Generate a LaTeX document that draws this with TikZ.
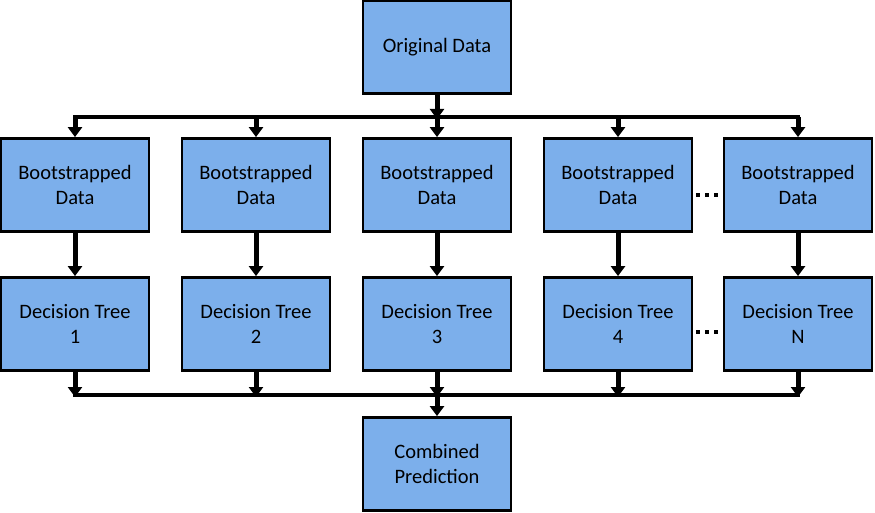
\documentclass[tikz,border=0pt]{standalone}
\usepackage{fontspec}
\setmainfont{Carlito}
\usetikzlibrary{arrows.meta}
\definecolor{boxblue}{RGB}{124,175,235}
\tikzset{
  block/.style={draw=black, line width=2.8pt, fill=boxblue, minimum width=148pt, minimum height=93pt,
    align=center, inner sep=0pt, font=\fontsize{20.5}{25}\selectfont},
  feed/.style={line width=5pt, -{Triangle[width=14pt,length=10pt]}},
  bus/.style={line width=4pt},
  gap/.style={line width=4pt, dash pattern=on 4pt off 5pt, shorten <=3pt, shorten >=4pt}
}
\begin{document}
\begin{tikzpicture}[x=1pt,y=-1pt]
                \useasboundingbox (0,0) rectangle (875,513);

                \node[block] (orig) at (437,47) {Original Data};

                \node[block] (b1) at (75,185) {Bootstrapped\\Data};
                \node[block] (b2) at (256,185) {Bootstrapped\\Data};
                \node[block] (b3) at (437,185) {Bootstrapped\\Data};
                \node[block] (b4) at (618,185) {Bootstrapped\\Data};
                \node[block] (b5) at (798,185) {Bootstrapped\\Data};

                \node[block] (t1) at (75,324) {Decision Tree\\1};
                \node[block] (t2) at (256,324) {Decision Tree\\2};
                \node[block] (t3) at (437,324) {Decision Tree\\3};
                \node[block] (t4) at (618,324) {Decision Tree\\4};
                \node[block] (t5) at (798,324) {Decision Tree\\N};

                \node[block] (comb) at (437,464) {Combined\\Prediction};

                % upper bus
                \coordinate (u1) at (75,117);
                \coordinate (u2) at (256,117);
                \coordinate (u3) at (437,117);
                \coordinate (u4) at (618,117);
                \coordinate (u5) at (798,117);
                \draw[bus] ([xshift=-2pt]u1) -- ([xshift=2pt]u5);
                \draw[feed] (orig) -- ([yshift=-2pt]u3);
                \draw[feed] (u1) -- (b1);
                \draw[feed] (u2) -- (b2);
                \draw[feed] (u3) -- (b3);
                \draw[feed] (u4) -- (b4);
                \draw[feed] (u5) -- (b5);

                \draw[feed] (b1) -- (t1);
                \draw[feed] (b2) -- (t2);
                \draw[feed] (b3) -- (t3);
                \draw[feed] (b4) -- (t4);
                \draw[feed] (b5) -- (t5);

                % lower bus
                \coordinate (l1) at (75,395);
                \coordinate (l2) at (256,395);
                \coordinate (l3) at (437,395);
                \coordinate (l4) at (618,395);
                \coordinate (l5) at (798,395);
                \draw[bus] ([xshift=-2pt]l1) -- ([xshift=2pt]l5);
                \draw[feed] (t1) -- ([yshift=-2pt]l1);
                \draw[feed] (t2) -- ([yshift=-2pt]l2);
                \draw[feed] (t3) -- ([yshift=-2pt]l3);
                \draw[feed] (t4) -- ([yshift=-2pt]l4);
                \draw[feed] (t5) -- ([yshift=-2pt]l5);
                \draw[feed] (l3) -- (comb);

                \draw[gap] ([yshift=-10pt]b4.east) -- ([yshift=-10pt]b5.west);
                \draw[gap] ([yshift=-8pt]t4.east) -- ([yshift=-8pt]t5.west);
\end{tikzpicture}
\end{document}
